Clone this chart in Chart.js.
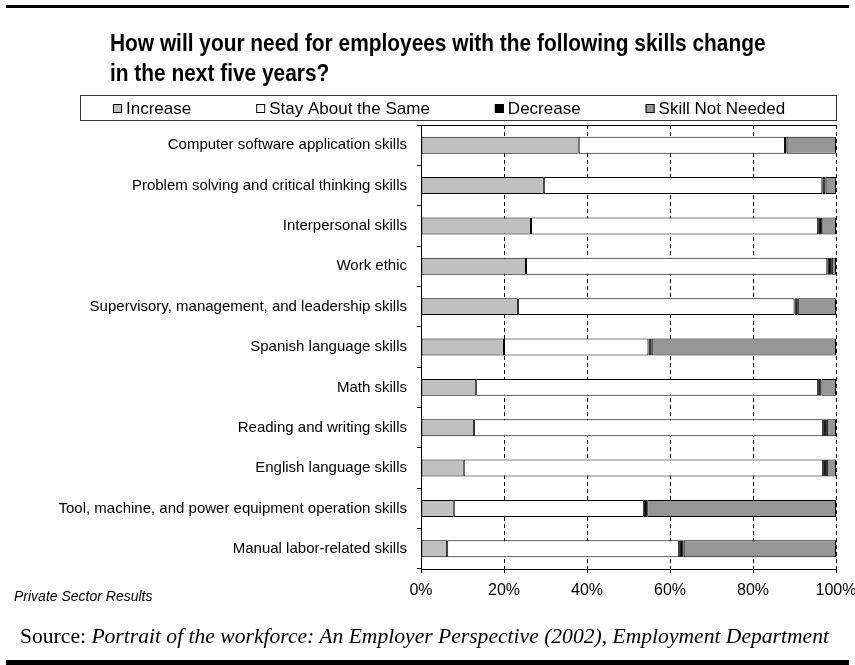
<!DOCTYPE html>
<html>
<head>
<meta charset="utf-8">
<script src="https://cdn.jsdelivr.net/npm/chart.js@4/dist/chart.umd.min.js"></script>
<style>
	body { margin: 0; background: #fff; }
	#wrap { position: relative; width: 855px; height: 665px; overflow: hidden; }
	#chart { position: absolute; left: 0; top: 0; }
	.rule { position: absolute; left: 6px; width: 843px; background: #000; }
	#title {
		position: absolute; left: 110px; top: 28px; margin: 0; white-space: nowrap;
		font: bold 24px "Liberation Sans Narrow", "Arial Narrow", Arial, sans-serif;
		line-height: 30px; color: #000;
		transform: scaleX(0.87); transform-origin: 0 0;
	}
	#note { position: absolute; left: 14px; top: 588px; font: italic 14px Arial, "Liberation Sans", sans-serif; }
	#source { position: absolute; left: 20px; top: 624px; font: 21.6px "Liberation Serif", "Times New Roman", serif; }
</style>
</head>
<body>
<div id="wrap">
	<canvas id="chart" width="855" height="665"></canvas>
	<div class="rule" style="top:5px;height:3px"></div>
	<div class="rule" style="top:660px;height:5px"></div>
	<h1 id="title">How will your need for employees with the following skills change<br>in the next five years?</h1>
	<div id="note">Private Sector Results</div>
	<div id="source">Source: <i>Portrait of the workforce: An Employer Perspective (2002), Employment Department</i></div>
</div>
<script>
// Chart data
const SKILLS = [
	"Computer software application skills",
	"Problem solving and critical thinking skills",
	"Interpersonal skills",
	"Work ethic",
	"Supervisory, management, and leadership skills",
	"Spanish language skills",
	"Math skills",
	"Reading and writing skills",
	"English language skills",
	"Tool, machine, and power equipment operation skills",
	"Manual labor-related skills",
];
const INCREASE = [38.0, 29.6, 26.5, 25.3, 23.4, 20.0, 13.3, 12.8, 10.3, 7.9, 6.3];
const STAY_SAME = [49.7, 67.1, 69.2, 72.6, 66.6, 34.8, 82.4, 84.1, 86.6, 45.8, 55.9];
const DECREASE = [0.4, 0.8, 1.0, 1.1, 0.8, 0.8, 0.8, 0.9, 0.9, 0.8, 1.1];
const NOT_NEEDED = [11.9, 2.5, 3.3, 1.0, 9.2, 44.4, 3.5, 2.2, 2.2, 45.5, 36.7];
const X_TICKS = [0, 20, 40, 60, 80, 100];

const FONT = 'Arial, "Liberation Sans", sans-serif';

const series = (label, data, color) => ({
	label: label,
	data: data,
	backgroundColor: color,
	borderColor: "#000",
	borderWidth: 1,
	borderSkipped: false,
	barPercentage: 0.42,
	categoryPercentage: 1,
});

// Excel style boxed legend + top border of the plot
const frameLegend = {
	id: "frameLegend",
	afterDraw(chart) {
		const { ctx, chartArea } = chart;
		ctx.save();
		ctx.strokeStyle = "#000";
		ctx.lineWidth = 1;
		ctx.beginPath();
		ctx.moveTo(chartArea.left, chartArea.top + 0.5);
		ctx.lineTo(chartArea.right, chartArea.top + 0.5);
		ctx.stroke();

		ctx.strokeStyle = "#333";
		ctx.strokeRect(80.5, 95.5, 756, 25);
		ctx.font = "17px " + FONT;
		ctx.textBaseline = "middle";
		let x = 113;
		chart.data.datasets.forEach((ds) => {
			ctx.fillStyle = ds.backgroundColor;
			ctx.fillRect(x, 104, 9, 9);
			ctx.strokeStyle = "#000";
			ctx.strokeRect(x + 0.5, 104.5, 8, 8);
			ctx.fillStyle = "#000";
			ctx.fillText(ds.label, x + 13, 109);
			x += 13 + ctx.measureText(ds.label).width + 65;
		});
		ctx.restore();
	},
};

new Chart(document.getElementById("chart"), {
	type: "bar",
	data: {
		labels: SKILLS,
		datasets: [
			series("Increase", INCREASE, "#c0c0c0"),
			series("Stay About the Same", STAY_SAME, "#ffffff"),
			series("Decrease", DECREASE, "#000000"),
			series("Skill Not Needed", NOT_NEEDED, "#969696"),
		],
	},
	options: {
		indexAxis: "y",
		responsive: false,
		animation: false,
		devicePixelRatio: 1,
		layout: { padding: { top: 125, left: 0, right: 0, bottom: 0 } },
		scales: {
			x: {
				stacked: true,
				min: 0,
				max: 100,
				afterBuildTicks: (scale) => {
					scale.ticks = X_TICKS.map((v) => ({ value: v }));
				},
				afterFit: (scale) => {
					scale.height = 96;
					scale.paddingRight = 19;
					scale.paddingLeft = 0;
				},
				// in v4 border.dash also dashes the grid lines
				border: { display: true, color: "#000", width: 1, dash: [4, 3] },
				grid: {
					color: "#000",
					lineWidth: 1,
					tickLength: 4,
					tickBorderDash: [],
				},
				ticks: {
					color: "#000",
					font: { family: FONT, size: 16 },
					padding: 8,
					maxRotation: 0,
					callback: (v) => v + "%",
				},
			},
			y: {
				stacked: true,
				afterFit: (scale) => {
					scale.width = 421;
				},
				border: { display: true, color: "#000", width: 1 },
				grid: {
					drawOnChartArea: false,
					drawTicks: true,
					tickLength: 4,
					color: "#000",
				},
				ticks: {
					color: "#000",
					font: { family: FONT, size: 15 },
					padding: 10,
					autoSkip: false,
				},
			},
		},
		plugins: {
			legend: { display: false },
			tooltip: { enabled: false },
		},
	},
	plugins: [frameLegend],
});
</script>
</body>
</html>
